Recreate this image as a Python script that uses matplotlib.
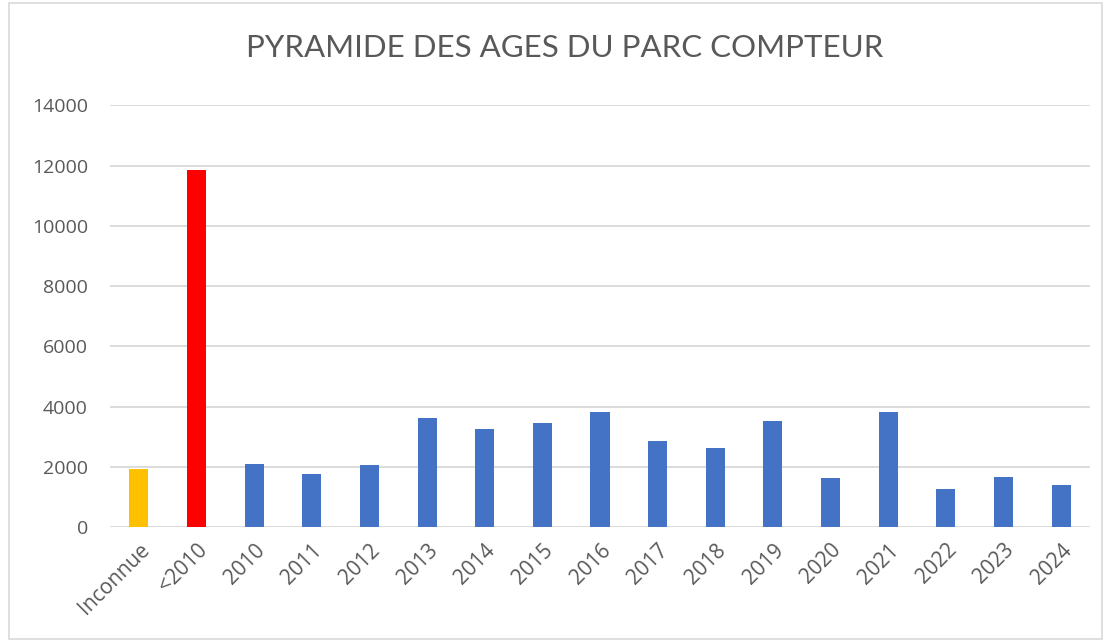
import matplotlib.pyplot as plt
from matplotlib.patches import Rectangle

# data
categories = ['Inconnue', '<2010', '2010', '2011', '2012', '2013', '2014', '2015', '2016',
              '2017', '2018', '2019', '2020', '2021', '2022', '2023', '2024']
counts = [1925, 11850, 2080, 1775, 2055, 3635, 3245, 3470, 3820,
          2860, 2615, 3520, 1625, 3820, 1270, 1660, 1400]
colors = ['#FFC000', '#FF0000'] + ['#4472C4'] * 15

plt.rcParams['font.family'] = ['Open Sans', 'DejaVu Sans']

fig = plt.figure(figsize=(11.06, 6.42), dpi=100)
ax = fig.add_axes([0.0995, 0.179, 0.886, 0.657])

x = range(len(categories))
ax.bar(x, counts, width=0.33, color=colors, zorder=3)

ax.set_ylim(0, 14000)
ax.set_yticks(range(0, 14001, 2000))
ax.set_xlim(-0.5, len(categories) - 0.5)
ax.set_xticks(list(x))
ax.set_xticklabels(categories, rotation=45, ha='right', rotation_mode='anchor')
ax.tick_params(axis='both', length=0, labelsize=14, colors='#595959')
ax.tick_params(axis='x', pad=9, labelsize=15)
ax.tick_params(axis='y', pad=16)
ax.grid(axis='y', color='#d9d9d9', linewidth=1.3, zorder=0)
for s in ax.spines.values():
    s.set_visible(False)

fig.text(0.511, 0.925, 'PYRAMIDE DES AGES DU PARC COMPTEUR', ha='center', va='center',
         fontsize=22.5, color='#595959', family=['Lato', 'DejaVu Sans'])

# light frame around the chart
fig.patches.append(Rectangle((0.008, 0.005), 0.988, 0.99, transform=fig.transFigure,
                             fill=False, edgecolor='#d9d9d9', linewidth=1.2))

fig.savefig('out.png', dpi=100)
